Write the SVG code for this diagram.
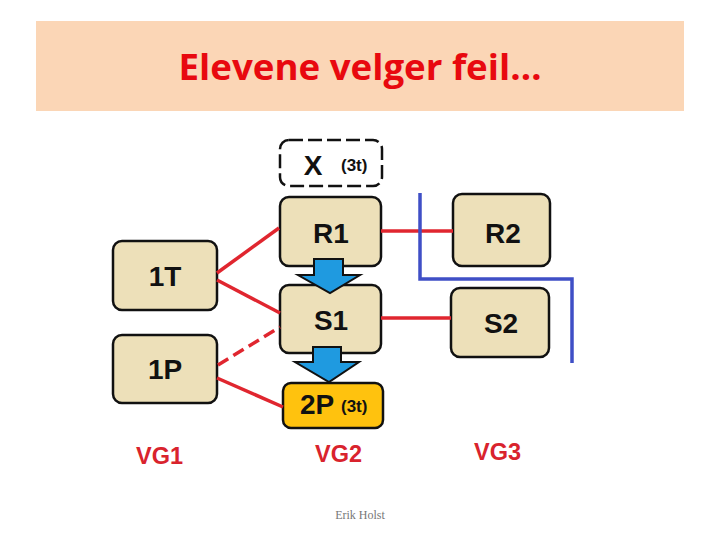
<svg xmlns="http://www.w3.org/2000/svg" width="720" height="540" viewBox="0 0 720 540">
<style>
.box{fill:#ede0b9;stroke:#111;stroke-width:2.5}
.lbl{font-family:"Liberation Sans",Arial,sans-serif;font-weight:bold;font-size:28px;fill:#111;text-anchor:middle}
.sm{font-family:"Liberation Sans",Arial,sans-serif;font-weight:bold;font-size:17px;fill:#111}
.vg{font-family:"Liberation Sans",Arial,sans-serif;font-weight:bold;font-size:23.5px;fill:#d9232d}
.red{stroke:#e0262f;stroke-width:3.5;fill:none}
.arr{fill:#1f9ae0;stroke:#111;stroke-width:2}
</style>
<rect width="720" height="540" fill="#fff"/>
<rect x="36" y="21" width="648" height="90" fill="#fbd6b6"/>
<text x="360" y="80" text-anchor="middle" font-family="'Open Sans','Noto Sans',sans-serif" font-weight="bold" font-size="36" fill="#e8090f" textLength="363" lengthAdjust="spacingAndGlyphs">Elevene velger feil…</text>

<g id="nodeX">
<rect x="280" y="140" width="102" height="46" rx="9" fill="#fff" stroke="#111" stroke-width="2.5" stroke-dasharray="14,5"/>
<text class="lbl" x="313" y="175" font-size="32">X</text>
<text class="sm" x="341" y="171">(3t)</text>
</g>
<g id="nodeR1"><rect class="box" x="280" y="197" width="101" height="69" rx="9"/><text class="lbl" x="331" y="243">R1</text></g>
<g id="nodeS1"><rect class="box" x="280" y="285" width="101" height="68" rx="9"/><text class="lbl" x="331" y="330">S1</text></g>
<g id="node2P"><rect x="283" y="383" width="100" height="45" rx="8" fill="#ffc20e" stroke="#111" stroke-width="2.5"/>
<text class="lbl" x="317" y="414" font-size="23">2P</text><text class="sm" x="341" y="412" font-size="16">(3t)</text></g>
<g id="node1T"><rect class="box" x="113" y="241" width="104" height="69" rx="9"/><text class="lbl" x="165" y="286">1T</text></g>
<g id="node1P"><rect class="box" x="113" y="335" width="104" height="68" rx="9"/><text class="lbl" x="165" y="379">1P</text></g>
<g id="nodeR2"><rect class="box" x="453" y="194" width="97" height="72" rx="9"/><text class="lbl" x="503" y="243">R2</text></g>
<g id="nodeS2"><rect class="box" x="451" y="288" width="98" height="69" rx="9"/><text class="lbl" x="501" y="333">S2</text></g>

<g id="connectors">
<line class="red" x1="217" y1="273" x2="279" y2="228"/>
<line class="red" x1="217" y1="280" x2="280" y2="313"/>
<line class="red" x1="218" y1="365" x2="280" y2="327" stroke-dasharray="12,6"/>
<line class="red" x1="217" y1="378" x2="283" y2="407"/>
<line class="red" x1="381" y1="231" x2="453" y2="231"/>
<line class="red" x1="381" y1="318" x2="451" y2="318"/>
<polyline points="420,193 420,279 572,279 572,363" fill="none" stroke="#3f4fc6" stroke-width="3.5"/>
<polygon class="arr" points="314,259 343,259 343,275 360,275 330,293 298,275 314,275"/>
<polygon class="arr" points="313,347 341,347 341,362 359,362 329,382 295,362 313,362"/>
</g>

<text class="vg" x="136" y="464">VG1</text>
<text class="vg" x="315" y="462">VG2</text>
<text class="vg" x="474" y="460">VG3</text>
<text x="360" y="519" text-anchor="middle" font-family="'Liberation Serif',serif" font-size="12" fill="#777">Erik Holst</text>
</svg>
